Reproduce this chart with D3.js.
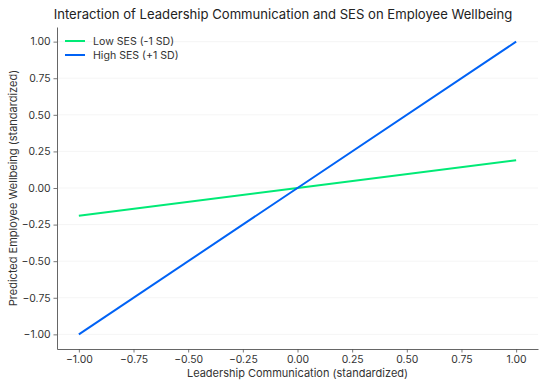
<!DOCTYPE html>
<html>
<head>
<meta charset="utf-8">
<script src="https://cdn.jsdelivr.net/npm/d3@7"></script>
<style>
  body { margin: 0; background: #fff; }
  svg { font-family: Inter, "DejaVu Sans", sans-serif; }
</style>
</head>
<body>
<div id="chart"></div>
<script>
// data
const leadership = [-1, 0, 1];
const low_ses = [-0.19, 0, 0.19];
const high_ses = [-1.0, 0, 1.0];
const series_names = ["Low SES (-1 SD)", "High SES (+1 SD)"];
const series_colors = ["#00ea76", "#0062f5"];
const tick_values = [-1, -0.75, -0.5, -0.25, 0, 0.25, 0.5, 0.75, 1];

const width = 550, height = 386;
const margin = {left: 57, right: 12, top: 27, bottom: 37};

let svg = d3.select("#chart")
            .append("svg")
              .attr("width", width)
              .attr("height", height);

// 5% padding on both axes like matplotlib
let xscale = d3.scaleLinear()
               .domain([-1.1, 1.1])
               .range([margin.left, width - margin.right]);

let yscale = d3.scaleLinear()
               .domain([-1.1, 1.1])
               .range([height - margin.bottom, margin.top]);

// faint horizontal grid
svg.append("g")
   .selectAll("line")
   .data(tick_values)
   .enter()
   .append("line")
     .attr("x1", margin.left)
     .attr("x2", width - margin.right)
     .attr("y1", d => yscale(d))
     .attr("y2", d => yscale(d))
     .attr("stroke", "#f2f2f2")
     .attr("stroke-width", 0.8);

let x_axis = d3.axisBottom(xscale)
               .tickValues(tick_values)
               .tickFormat(d3.format(".2f"))
               .tickSizeInner(3.5)
               .tickSizeOuter(0)
               .tickPadding(3);

let y_axis = d3.axisLeft(yscale)
               .tickValues(tick_values)
               .tickFormat(d3.format(".2f"))
               .tickSizeInner(3.5)
               .tickSizeOuter(0)
               .tickPadding(3);

let gx = svg.append("g")
            .attr("transform", "translate(0," + (height - margin.bottom) + ")")
            .call(x_axis);

let gy = svg.append("g")
            .attr("transform", "translate(" + margin.left + ",0)")
            .call(y_axis);

[gx, gy].forEach(g => {
  g.select(".domain").attr("stroke", "#555").attr("stroke-width", 0.9);
  g.selectAll(".tick line").attr("stroke", "#555").attr("stroke-width", 0.8);
  g.selectAll(".tick text")
   .attr("fill", "#333")
   .style("font-size", "10.4px")
   .style("font-family", "Inter, sans-serif")
   .text(function () { return d3.select(this).text().replace("-", "\u2212"); });
});

// lines
let line = d3.line()
             .x((d, i) => xscale(leadership[i]))
             .y(d => yscale(d));

[low_ses, high_ses].forEach((s, i) => {
  svg.append("path")
     .datum(s)
     .attr("d", line)
     .attr("fill", "none")
     .attr("stroke", series_colors[i])
     .attr("stroke-width", 2);
});

// legend
let legend = svg.append("g")
                .attr("transform", "translate(" + (margin.left + 8) + "," + (margin.top + 14) + ")");

series_names.forEach((name, i) => {
  let row = legend.append("g").attr("transform", "translate(0," + (i * 14) + ")");
  row.append("line")
     .attr("x1", 0).attr("x2", 20)
     .attr("stroke", series_colors[i])
     .attr("stroke-width", 2);
  row.append("text")
     .attr("x", 28)
     .attr("dy", "0.35em")
     .attr("fill", "#333")
     .style("font-size", "10.6px")
     .text(name);
});

// title and labels
svg.append("text")
   .attr("x", 283)
   .attr("y", 19)
   .attr("text-anchor", "middle")
   .attr("fill", "#222")
   .style("font-size", "13.1px")
   .text("Interaction of Leadership Communication and SES on Employee Wellbeing");

svg.append("text")
   .attr("x", (margin.left + width - margin.right) / 2)
   .attr("y", 377)
   .attr("text-anchor", "middle")
   .attr("fill", "#333")
   .style("font-size", "11px")
   .text("Leadership Communication (standardized)");

svg.append("text")
   .attr("transform", "translate(17," + ((margin.top + height - margin.bottom) / 2) + ") rotate(-90)")
   .attr("text-anchor", "middle")
   .attr("fill", "#333")
   .style("font-size", "11px")
   .text("Predicted Employee Wellbeing (standardized)");
</script>
</body>
</html>
